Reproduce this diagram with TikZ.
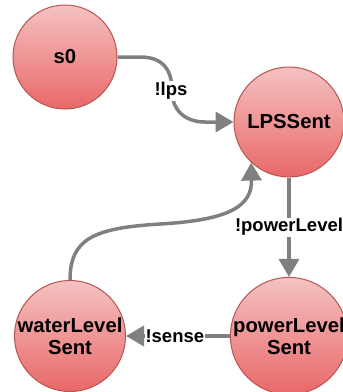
\documentclass[tikz,border=0pt]{standalone}
\usepackage{fontspec}
\setmainfont{Liberation Sans}
\usetikzlibrary{arrows.meta}
\definecolor{topc}{HTML}{F5C2C2}
\definecolor{botc}{HTML}{E96868}
\definecolor{strk}{HTML}{B85450}
\definecolor{edgec}{HTML}{808080}
\tikzset{
  state/.style={circle, draw=strk, line width=1pt, top color=topc, bottom color=botc,
    inner sep=0pt, align=center, font=\fontsize{20.3}{22}\selectfont\bfseries},
  conn/.style={draw=edgec, line width=3.5pt, -{Triangle[length=18pt,width=20pt]}},
  lab/.style={fill=white, inner sep=1pt, font=\fontsize{18.5}{22}\selectfont\bfseries}
}
\begin{document}
\begin{tikzpicture}[x=1pt,y=-1pt]
\clip (0,0) rectangle (343,392);
\fill[white] (0,0) rectangle (343,392);
\node[state, minimum size=104pt] (s0) at (65,57) {s0};
\node[state, minimum size=110pt] (lps) at (289,122) {LPSSent};
\node[state, minimum size=110pt] (pow) at (289,336) {powerLevel\\Sent};
\node[state, minimum size=110pt] (wat) at (70,336) {waterLevel\\Sent};
\draw[conn] (s0.east) -- (140,57) .. controls (165,57) and (172,72) .. (172,91)
  .. controls (172,110) and (185,122) .. (205,122) -- (lps.west);
\node[lab] (l1) at (171,91) {!lps};
\draw[conn] (lps.south) -- (pow.north) node[lab, midway] (l2) {!powerLevel};
\draw[conn] (pow.west) -- (wat.east) node[lab, pos=0.53] (l3) {!sense};
\draw[conn] (wat.north) .. controls (70,238) and (95,228) .. (160,224)
  .. controls (232,220) and (252,205) .. (lps.227);
\end{tikzpicture}
\end{document}
